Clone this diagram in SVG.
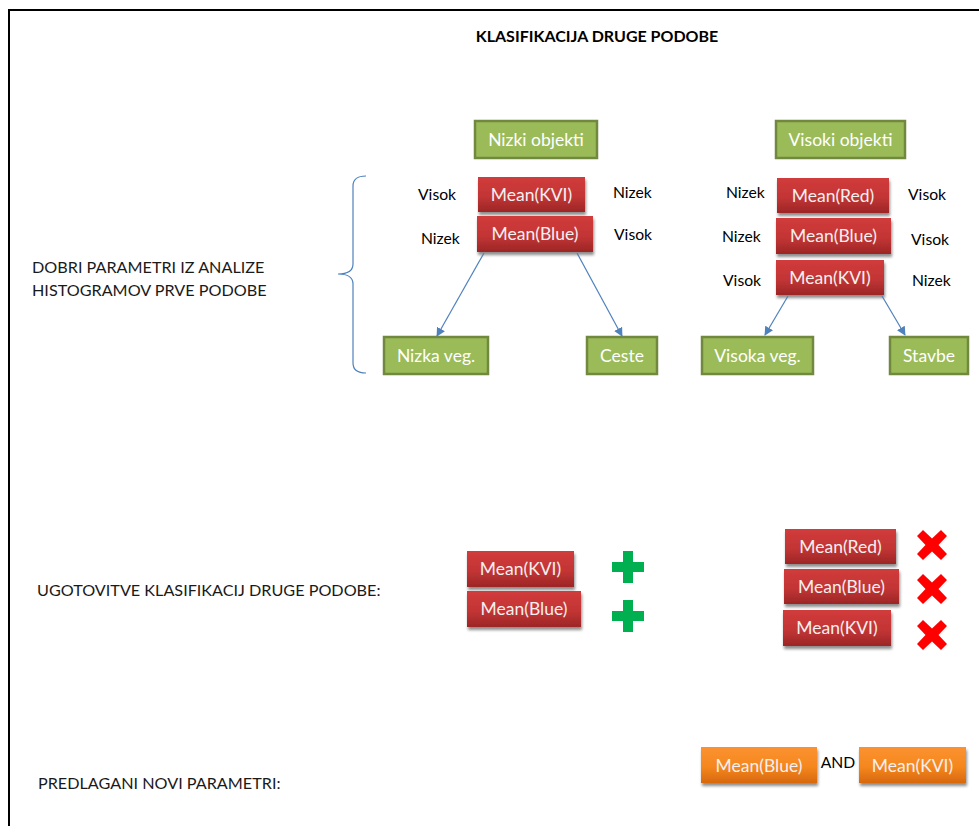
<svg xmlns="http://www.w3.org/2000/svg" width="979" height="826" viewBox="0 0 979 826">
  <defs>
    <linearGradient id="redGrad" x1="0" y1="0" x2="0" y2="1">
      <stop offset="0" stop-color="#d13b3b"/>
      <stop offset="0.55" stop-color="#c33535"/>
      <stop offset="1" stop-color="#9c2626"/>
    </linearGradient>
    <linearGradient id="orangeGrad" x1="0" y1="0" x2="0" y2="1">
      <stop offset="0" stop-color="#fb9230"/>
      <stop offset="0.55" stop-color="#f5871f"/>
      <stop offset="1" stop-color="#d8680d"/>
    </linearGradient>
    <filter id="shadow" x="-10%" y="-20%" width="125%" height="160%">
      <feGaussianBlur in="SourceAlpha" stdDeviation="1.6"/>
      <feOffset dx="1" dy="2.5" result="b"/>
      <feComponentTransfer><feFuncA type="linear" slope="0.45"/></feComponentTransfer>
      <feMerge><feMergeNode/><feMergeNode in="SourceGraphic"/></feMerge>
    </filter>
    <marker id="arrow" viewBox="0 0 10 10" refX="9" refY="5" markerWidth="9" markerHeight="9" orient="auto" markerUnits="userSpaceOnUse">
      <path d="M0,0 L10,5 L0,10 z" fill="#4f81bd"/>
    </marker>
    <path id="plusShape" d="M-5,-16 H5 V-5 H16 V5 H5 V16 H-5 V5 H-16 V-5 H-5 z"/>
    <path id="crossShape" d="M-15,-9 L-9,-15 L0,-6.5 L9,-15 L15,-9 L6.5,0 L15,9 L9,15 L0,6.5 L-9,15 L-15,9 L-6.5,0 z"/>
  </defs>
  <style>
    text { font-family: Lato, "Open Sans", "Liberation Sans", sans-serif; }
    .title { font-size: 16px; font-weight: bold; fill: #000; }
    .label { font-size: 16.2px; fill: #1a1a1a; }
    .tag { font-size: 15.7px; fill: #000; }
    .green rect { fill: #9bbb59; stroke: #71893f; stroke-width: 2.5; }
    .green text { font-size: 17.5px; fill: #ffffff; text-anchor: middle; }
    .red rect { fill: url(#redGrad); filter: url(#shadow); }
    .red text, .orange text { font-size: 17.5px; fill: #f4f0f0; text-anchor: middle; }
    .orange rect { fill: url(#orangeGrad); filter: url(#shadow); }
    .conn line { stroke: #4f81bd; stroke-width: 1.2; marker-end: url(#arrow); }
  </style>

  <rect width="979" height="826" fill="#ffffff"/>
  <!-- page frame -->
  <path d="M9,826 V10 H979" fill="none" stroke="#000" stroke-width="2"/>

  <text class="title" x="597" y="42" text-anchor="middle">KLASIFIKACIJA DRUGE PODOBE</text>

  <!-- upper tree: low objects -->
  <g id="nizki-objekti" class="green"><rect x="475" y="121" width="122" height="37"/><text x="536" y="146">Nizki objekti</text></g>
  <g id="l-mean-kvi" class="red"><rect x="478" y="177" width="107" height="35"/><text x="531.5" y="201">Mean(KVI)</text></g>
  <g id="l-mean-blue" class="red"><rect x="477" y="216" width="116" height="36"/><text x="535" y="240">Mean(Blue)</text></g>
  <text class="tag" x="418" y="200">Visok</text>
  <text class="tag" x="613" y="198">Nizek</text>
  <text class="tag" x="421" y="244">Nizek</text>
  <text class="tag" x="614" y="240">Visok</text>
  <g id="nizka-veg" class="green"><rect x="384" y="337" width="104" height="37"/><text x="436" y="362">Nizka veg.</text></g>
  <g id="ceste" class="green"><rect x="587" y="337" width="70" height="37"/><text x="622" y="362">Ceste</text></g>

  <!-- upper tree: high objects -->
  <g id="visoki-objekti" class="green"><rect x="776" y="121" width="129" height="37"/><text x="840.5" y="146">Visoki objekti</text></g>
  <g id="r-mean-red" class="red"><rect x="777" y="178" width="112" height="35"/><text x="833" y="202">Mean(Red)</text></g>
  <g id="r-mean-blue" class="red"><rect x="776" y="218" width="115" height="36"/><text x="833.5" y="242">Mean(Blue)</text></g>
  <g id="r-mean-kvi" class="red"><rect x="776" y="260" width="108" height="35"/><text x="830" y="284">Mean(KVI)</text></g>
  <text class="tag" x="726" y="198">Nizek</text>
  <text class="tag" x="908" y="200">Visok</text>
  <text class="tag" x="722" y="242">Nizek</text>
  <text class="tag" x="911" y="245">Visok</text>
  <text class="tag" x="723" y="286">Visok</text>
  <text class="tag" x="912" y="286">Nizek</text>
  <g id="visoka-veg" class="green"><rect x="702" y="337" width="111" height="37"/><text x="757.5" y="362">Visoka veg.</text></g>
  <g id="stavbe" class="green"><rect x="890" y="337" width="78" height="37"/><text x="929" y="362">Stavbe</text></g>

  <g id="connectors" class="conn">
    <line x1="484" y1="253" x2="437" y2="336"/>
    <line x1="577" y1="253" x2="622" y2="336"/>
    <line x1="788" y1="296" x2="765" y2="335"/>
    <line x1="882" y1="296" x2="905" y2="335"/>
  </g>

  <!-- brace grouping the parameter blocks -->
  <path d="M366,176 Q353,176 353,186 V264 Q353,274 338,274 Q353,274 353,284 V363 Q353,373 366,373" fill="none" stroke="#4f81bd" stroke-width="1.2"/>
  <text class="label" x="32" y="273">DOBRI PARAMETRI IZ ANALIZE</text>
  <text class="label" x="32" y="296">HISTOGRAMOV PRVE PODOBE</text>

  <!-- findings -->
  <text class="label" x="37" y="596">UGOTOVITVE KLASIFIKACIJ DRUGE PODOBE:</text>
  <g id="f-mean-kvi" class="red"><rect x="467" y="551" width="107" height="36"/><text x="520.5" y="575">Mean(KVI)</text></g>
  <g id="f-mean-blue" class="red"><rect x="467" y="591" width="114" height="36"/><text x="524" y="615">Mean(Blue)</text></g>
  <use href="#plusShape" x="628" y="567" fill="#00b050"/>
  <use href="#plusShape" x="628" y="616" fill="#00b050"/>
  <g id="f-mean-red" class="red"><rect x="785" y="529" width="111" height="35"/><text x="840.5" y="553">Mean(Red)</text></g>
  <g id="f-mean-blue2" class="red"><rect x="784" y="569" width="115" height="35"/><text x="841.5" y="593">Mean(Blue)</text></g>
  <g id="f-mean-kvi2" class="red"><rect x="783" y="610" width="108" height="36"/><text x="837" y="634">Mean(KVI)</text></g>
  <use href="#crossShape" x="932" y="545" fill="#ff0000"/>
  <use href="#crossShape" x="932" y="589" fill="#ff0000"/>
  <use href="#crossShape" x="932" y="635" fill="#ff0000"/>

  <!-- proposal -->
  <text class="label" x="38" y="789">PREDLAGANI NOVI PARAMETRI:</text>
  <g id="p-mean-blue" class="orange"><rect x="701" y="747" width="116" height="36"/><text x="759" y="772">Mean(Blue)</text></g>
  <text class="tag" x="838" y="768" text-anchor="middle">AND</text>
  <g id="p-mean-kvi" class="orange"><rect x="859" y="747" width="107" height="36"/><text x="912.5" y="772">Mean(KVI)</text></g>
</svg>
